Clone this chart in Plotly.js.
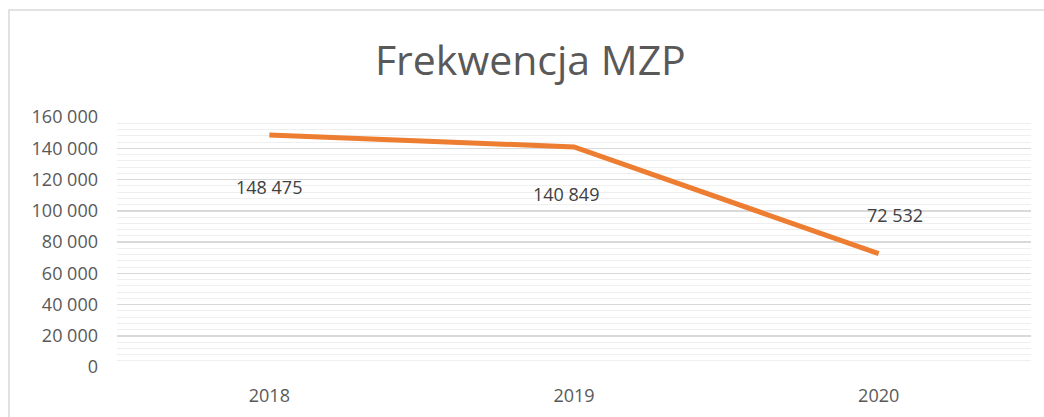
<!DOCTYPE html>
<html>
<head>
<meta charset="utf-8">
<script src="https://cdn.plot.ly/plotly-3.0.1.min.js"></script>
<style>
  html, body { margin: 0; padding: 0; background: #ffffff; }
  #chart { width: 1044px; height: 417px; }
</style>
</head>
<body>
<div id="chart"></div>
<script>
const years = ['2018', '2019', '2020'];
const attendance = [148475, 140849, 72532];
const labelTexts = ['148 475', '140 849', '72 532'];
const yTickVals = [0, 20000, 40000, 60000, 80000, 100000, 120000, 140000, 160000];
const yTickText = ['0', '20 000', '40 000', '60 000', '80 000', '100 000', '120 000', '140 000', '160 000'];

const labelShifts = [[0, -52], [-8, -47], [16, 39]];

const FONT = 'Open Sans, Lato, sans-serif';

const trace = {
  type: 'scatter',
  mode: 'lines',
  x: years,
  y: attendance,
  line: { color: '#ED7D31', width: 5, shape: 'linear' },
  hoverinfo: 'x+y',
  showlegend: false
};

// category axis: annotation x given as category index
const annotations = years.map((yr, i) => ({
  x: i, y: attendance[i], xref: 'x', yref: 'y',
  text: labelTexts[i], showarrow: false,
  xshift: labelShifts[i][0], yshift: labelShifts[i][1],
  font: { family: FONT, size: 18, color: '#404040' }
}));

const layout = {
  width: 1044, height: 417,
  margin: { l: 117, r: 13, t: 117, b: 50 },
  paper_bgcolor: '#ffffff',
  plot_bgcolor: '#ffffff',
  title: {
    text: 'Frekwencja MZP',
    font: { family: FONT, size: 41, color: '#595959' },
    x: 0.508, xanchor: 'center', y: 0.855, yanchor: 'middle'
  },
  xaxis: {
    type: 'category',
    range: [-0.5, 2.5],
    showgrid: false, zeroline: false, showline: false,
    ticks: '', ticklabelstandoff: 16,
    tickfont: { family: FONT, size: 18, color: '#595959' },
    fixedrange: true
  },
  yaxis: {
    range: [0, 160000],
    tickvals: yTickVals, ticktext: yTickText,
    showgrid: true, gridcolor: '#d9d9d9', gridwidth: 1.5,
    zeroline: false, showline: false,
    ticks: '', ticklabelstandoff: 18,
    tickfont: { family: FONT, size: 18, color: '#595959' },
    minor: { dtick: 4000, showgrid: true, gridcolor: '#efefef', gridwidth: 1, ticks: '' },
    fixedrange: true
  },
  shapes: [{
    type: 'rect', xref: 'paper', yref: 'paper',
    x0: -0.1182, x1: 1.3, y0: -0.5, y1: 1.428,
    line: { color: '#d9d9d9', width: 1.5 }, fillcolor: 'rgba(0,0,0,0)', layer: 'below'
  }],
  annotations: annotations
};

Plotly.newPlot('chart', [trace], layout, { displayModeBar: false, staticPlot: true });
</script>
</body>
</html>
